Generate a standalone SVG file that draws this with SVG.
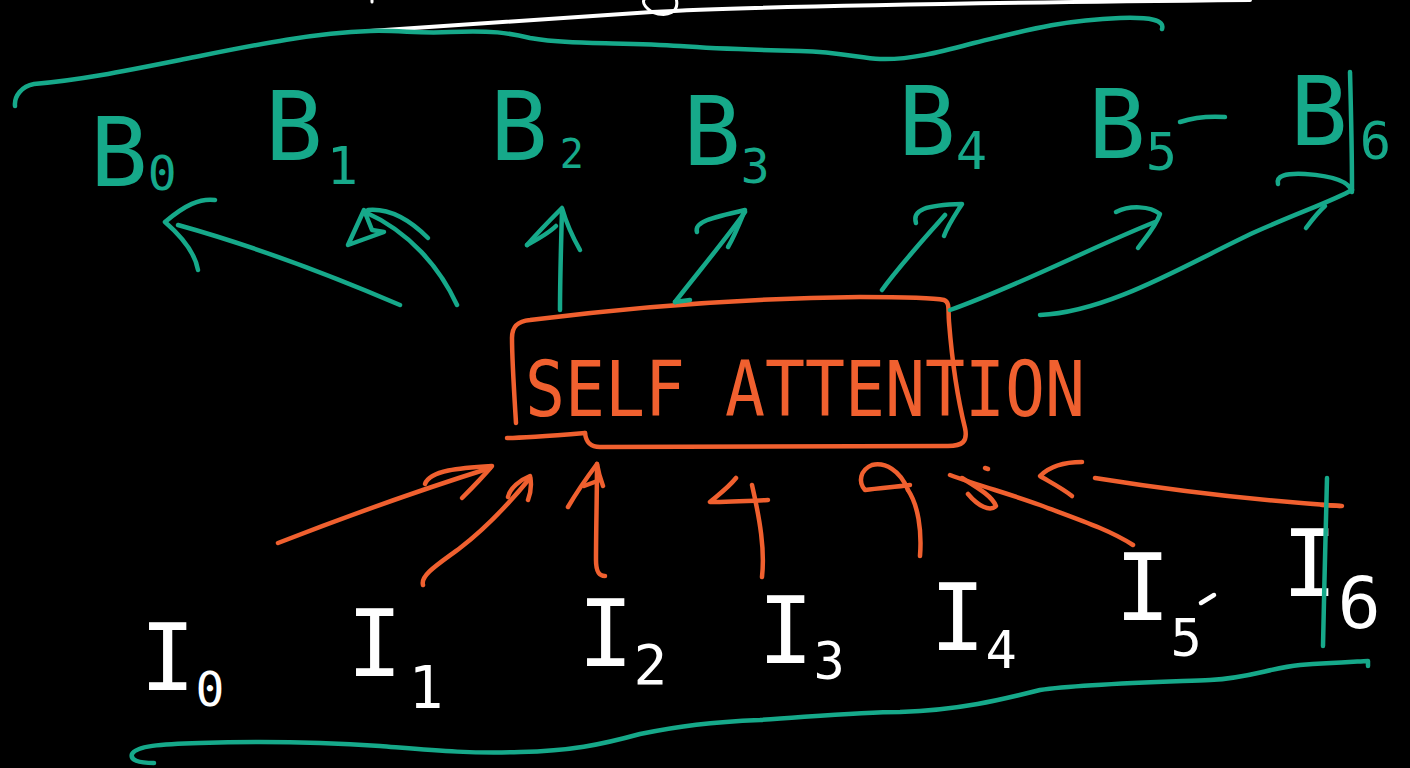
<svg xmlns="http://www.w3.org/2000/svg" width="1410" height="768" viewBox="0 0 1410 768">
  <style>
    .ink { fill: none; stroke-width: 4.5; stroke-linecap: round; stroke-linejoin: round; }
    .teal { stroke: #16a98a; }
    .orange { stroke: #f0602f; }
    .white { stroke: #ffffff; }
    .lbl { font-family: "DejaVu Sans Mono", "Liberation Mono", monospace; }
    .b { fill: #16a98a; }
    .i { fill: #ffffff; }
    .sa { fill: #f0602f; font-family: "DejaVu Sans Mono", "Liberation Mono", monospace; }
  </style>
  <rect width="1410" height="768" fill="#000000"/>

  <!-- stray white strokes along the top edge -->
  <g id="top-scribble" class="ink white">
    <path d="M370,31 C500,22 580,16 652,12 C760,6 950,3 1250,0" stroke-width="4"/>
    <path d="M652,12 C640,4 642,-2 650,-4 M652,12 C668,18 680,12 676,-2" stroke-width="3"/>
    <path d="M372,0 L372,2" stroke-width="3"/>
  </g>

  <!-- teal brace over the outputs -->
  <g id="top-brace" class="ink teal">
    <path d="M15,106 C14,96 22,86 34,84 C80,80 120,72 180,60 C250,46 310,33 370,31 C400,30 420,34 450,32 C490,30 510,33 530,38 C570,45 620,42 680,46 C720,49 760,50 800,51 C840,52 860,58 880,59 C910,60 940,52 970,44 C1020,32 1060,20 1120,18 C1150,17 1165,20 1162,29"/>
  </g>

  <!-- output tokens -->
  <g id="B0"><text class="lbl b" x="90" y="186" font-size="96">B<tspan font-size="48" dy="4">0</tspan></text></g>
  <g id="B1"><text class="lbl b" x="265" y="160" font-size="96">B<tspan font-size="52" dx="4" dy="24">1</tspan></text></g>
  <g id="B2"><text class="lbl b" x="490" y="160" font-size="96">B<tspan font-size="40" dx="12" dy="8">2</tspan></text></g>
  <g id="B3"><text class="lbl b" x="683" y="165" font-size="96">B<tspan font-size="48" dy="18">3</tspan></text></g>
  <g id="B4"><text class="lbl b" x="898" y="155" font-size="96">B<tspan font-size="52" dy="14">4</tspan></text></g>
  <g id="B5">
    <text class="lbl b" x="1088" y="158" font-size="96">B<tspan font-size="52" dy="12">5</tspan></text>
    <path class="ink teal" d="M1180,122 C1195,117 1210,116 1225,117"/>
  </g>
  <g id="B6"><text class="lbl b" x="1290" y="145" font-size="96">B<tspan font-size="52" dx="12" dy="14">6</tspan></text></g>

  <!-- self-attention block -->
  <g id="self-attention">
    <path class="ink orange" d="M516,423 C514,390 512,360 512,338 C512,326 518,321 530,320 C640,306 760,298 860,297 C905,297 935,298 944,300 C950,302 948,310 949,322 C952,360 958,400 965,428 C968,442 962,446 948,446 L600,447 C590,447 586,442 585,433"/>
    <path class="ink orange" d="M507,438 C520,438 560,435 585,433"/>
    <text class="sa" x="525" y="416" font-size="76" textLength="560" lengthAdjust="spacingAndGlyphs">SELF ATTENTION</text>
  </g>

  <!-- input tokens -->
  <g id="I0"><text class="lbl i" x="140" y="690" font-size="92">I<tspan font-size="48" dy="16">0</tspan></text></g>
  <g id="I1"><text class="lbl i" x="347" y="676" font-size="92">I<tspan font-size="58" dx="6" dy="32">1</tspan></text></g>
  <g id="I2"><text class="lbl i" x="578" y="666" font-size="92">I<tspan font-size="56" dy="18">2</tspan></text></g>
  <g id="I3"><text class="lbl i" x="758" y="663" font-size="92">I<tspan font-size="52" dy="16">3</tspan></text></g>
  <g id="I4"><text class="lbl i" x="930" y="650" font-size="92">I<tspan font-size="52" dy="18">4</tspan></text></g>
  <g id="I5">
    <text class="lbl i" x="1115" y="620" font-size="92">I<tspan font-size="52" dy="36">5</tspan></text>
    <path class="ink white" d="M1201,603 L1214,595" stroke-width="3.5"/>
  </g>
  <g id="I6"><text class="lbl i" x="1282" y="596" font-size="92">I<tspan font-size="72" dy="32">6</tspan></text></g>

  <!-- teal brace under the inputs -->
  <g id="bottom-brace" class="ink teal">
    <path d="M154,763 C138,763 130,760 132,754 C136,746 160,744 200,743 C260,741 320,742 380,746 C430,750 470,754 520,752 C570,751 600,745 640,734 C680,726 710,722 760,720 C820,716 860,712 900,712 C960,710 1000,700 1040,690 C1080,684 1160,682 1210,680 C1250,678 1270,668 1300,665 C1330,663 1350,662 1368,661 L1368,666"/>
  </g>

  <!-- connectors -->
  <g id="connectors">
    <!-- attention outputs to B tokens -->
    <g class="ink teal">
      <path d="M400,305 C330,275 250,245 178,225"/>
      <path d="M215,200 C200,198 185,205 165,222 C180,235 195,252 198,270"/>

      <path d="M457,305 C440,268 410,232 365,212"/>
      <path d="M428,238 C410,220 390,208 368,210"/>
      <path d="M348,245 L364,210 L372,230 L384,232 Z"/>

      <path d="M560,310 C560,280 561,245 562,210"/>
      <path d="M527,245 C540,230 552,218 562,208 C566,222 572,236 580,250"/>
      <path d="M527,245 C540,238 550,232 556,226"/>

      <path d="M675,302 C700,270 725,240 745,212"/>
      <path d="M697,232 C694,222 710,218 745,210 C740,222 735,235 728,247"/>
      <path d="M675,302 L690,300"/>

      <path d="M882,290 C900,265 925,238 945,215"/>
      <path d="M916,223 C912,210 925,205 962,204 C955,215 948,225 944,236"/>

      <path d="M950,310 C1020,285 1090,248 1155,222"/>
      <path d="M1116,212 C1130,205 1150,206 1160,214 C1155,228 1145,238 1138,248"/>

      <path d="M1040,315 C1110,312 1190,262 1255,232 C1300,212 1335,200 1352,190"/>
      <path d="M1306,228 C1312,220 1318,212 1325,206"/>
      <path d="M1278,184 C1276,176 1285,173 1305,174 C1335,176 1350,182 1352,192"/>
      <path d="M1350,72 C1351,110 1352,150 1352,190"/>
    </g>

    <!-- I tokens into attention -->
    <g class="ink orange">
      <path d="M278,543 C350,515 420,490 490,468"/>
      <path d="M425,484 C430,470 460,468 492,466 C482,478 472,488 462,498"/>

      <path d="M423,585 C420,575 440,563 460,548 C490,525 512,500 530,478"/>
      <path d="M508,497 C510,488 520,480 530,476 C532,485 531,492 528,500"/>

      <path d="M605,576 C598,576 596,570 596,560 C596,530 597,495 597,464"/>
      <path d="M568,507 C578,490 588,476 597,464 C598,470 600,478 603,486"/>
      <path d="M584,486 L600,480"/>

      <path d="M762,577 C765,550 760,520 752,485"/>
      <path d="M736,478 C728,488 718,495 710,502 C728,502 748,501 768,500"/>

      <path d="M920,556 C922,530 918,505 908,490"/>
      <path d="M908,490 C900,470 885,462 872,465 C860,470 858,482 865,490 C880,488 895,487 910,485"/>

      <path d="M1133,545 C1110,530 1080,520 1040,505 C1010,494 980,486 950,475"/>
      <path d="M962,478 C978,488 992,496 996,506 C990,512 978,506 968,494"/>
      <path d="M985,468 L988,469"/>

      <path d="M1340,506 C1250,500 1170,490 1095,478"/>
      <path d="M1082,462 C1065,462 1050,466 1040,476 C1050,482 1062,488 1072,496"/>
      <path d="M1322,505 L1342,506"/>
    </g>

    <!-- teal stroke through I6 -->
    <path class="ink teal" d="M1327,478 C1326,530 1324,590 1323,646"/>
  </g>
</svg>
